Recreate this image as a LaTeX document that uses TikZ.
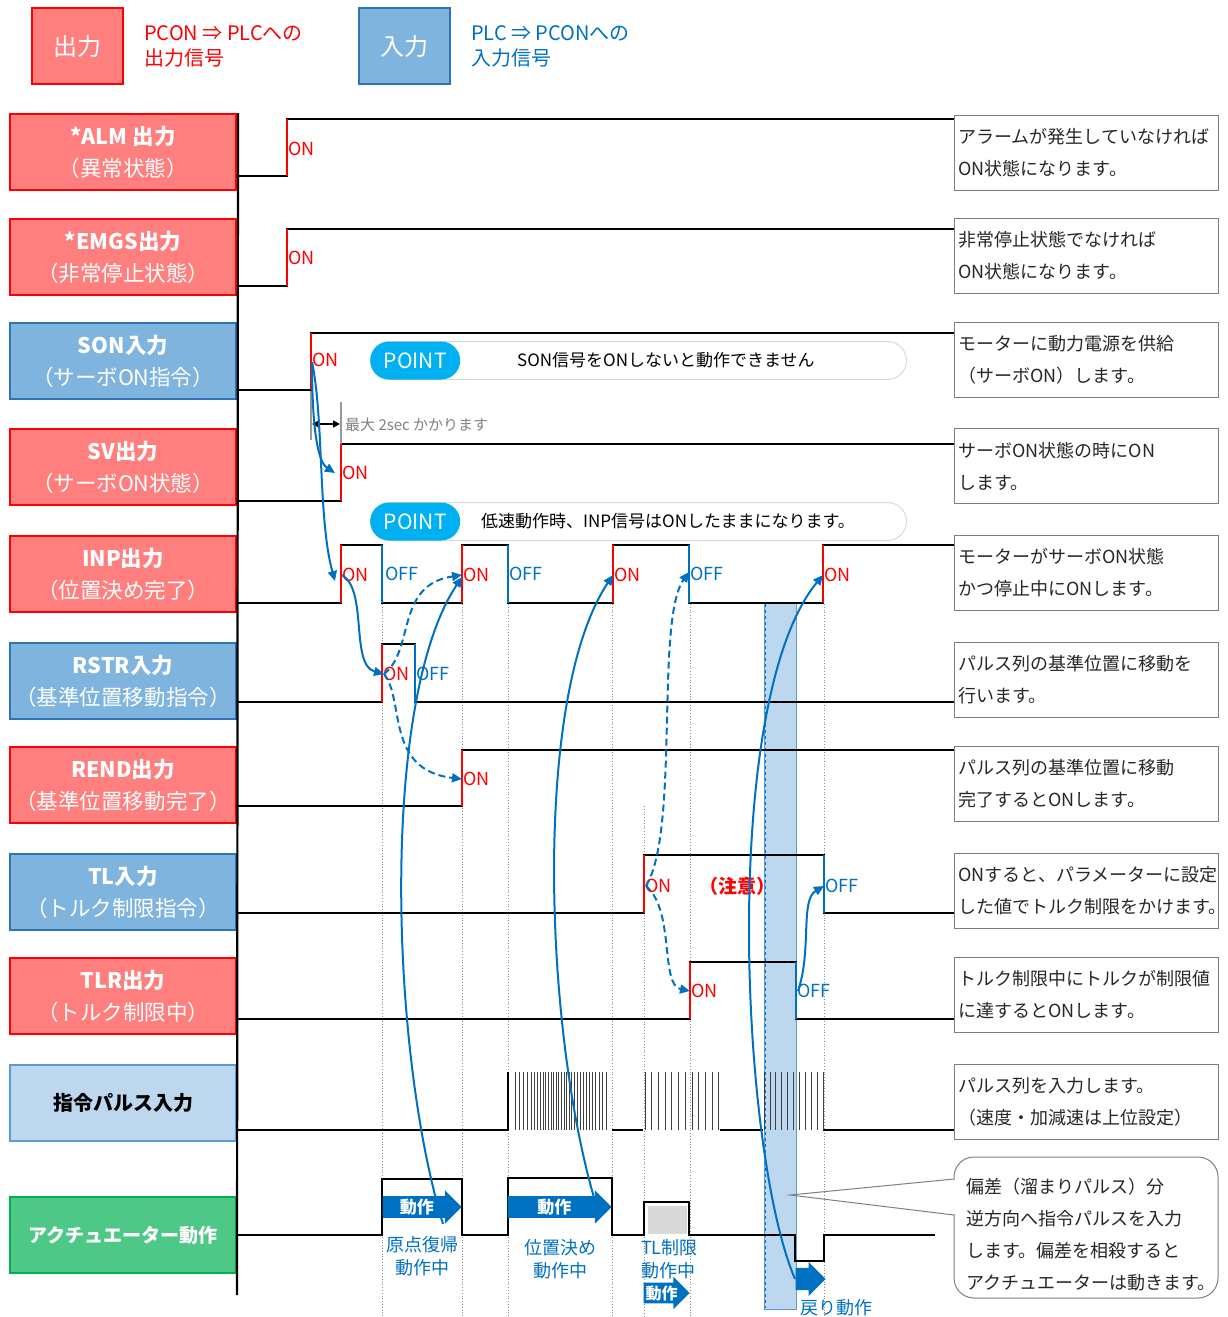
\documentclass[tikz,border=0pt]{standalone}
\usepackage{fontspec}
\setmainfont{Noto Sans CJK JP}
\usetikzlibrary{positioning,arrows.meta,shapes.arrows}
\definecolor{outclr}{RGB}{255,0,0}
\definecolor{outbg}{RGB}{255,127,127}
\definecolor{inclr}{RGB}{46,117,182}
\definecolor{inbg}{RGB}{127,180,222}
\definecolor{pulseclr}{RGB}{91,155,213}
\definecolor{pulsebg}{RGB}{189,215,238}
\definecolor{actclr}{RGB}{0,176,80}
\definecolor{actbg}{RGB}{78,200,134}
\definecolor{linkclr}{RGB}{0,112,192}
\definecolor{pointclr}{RGB}{0,176,240}
\definecolor{notegray}{RGB}{127,127,127}
\definecolor{textgray}{RGB}{38,38,38}

\tikzset{
  sigbox/.style={minimum width=226pt, minimum height=76pt, line width=2pt, inner sep=0pt,
                 align=center, anchor=north west, font=\fontsize{21.5}{32}\selectfont},
  outsig/.style={sigbox, draw=outclr, fill=outbg, text=white},
  insig/.style={sigbox, draw=inclr, fill=inbg, text=white},
  descbox/.style={draw=notegray, line width=1pt, minimum width=264pt, minimum height=75pt,
                  text width=256pt, inner xsep=4pt, align=left, anchor=north west,
                  text=textgray, font=\fontsize{18}{32}\selectfont},
  wave/.style={line width=1.6pt, black},
  rise/.style={line width=1.6pt, outclr},
  fall/.style={line width=1.6pt, linkclr},
  pulse/.style={line width=0.8pt, black!75},
  onlbl/.style={text=outclr, font=\fontsize{18}{20}\selectfont, inner sep=1pt, anchor=west},
  offlbl/.style={text=linkclr, font=\fontsize{18}{20}\selectfont, inner sep=1pt, anchor=west},
  link/.style={draw=linkclr, line width=2pt, -{Triangle[length=10pt,width=9pt]}},
  dashlink/.style={link, dash pattern=on 7pt off 4pt},
  guide/.style={draw=black!45, dotted, line width=0.8pt},
  movearrow/.style={single arrow, fill=linkclr, text=white, inner xsep=1pt, inner ysep=2.5pt,
                    single arrow head extend=6pt, anchor=tip,
                    font=\fontsize{17}{18}\selectfont\bfseries},
  acttxt/.style={text=linkclr, align=center, font=\fontsize{18}{23}\selectfont, inner sep=0pt},
  pointbox/.style={draw=black!15, line width=1pt, fill=white, rounded corners=19pt,
                   minimum width=536pt, minimum height=38pt, anchor=north west, inner sep=0pt},
  pointtag/.style={fill=pointclr, rounded corners=19pt, minimum width=90pt, minimum height=38pt,
                   inner sep=0pt, text=white, font=\fontsize{21}{22}\selectfont, anchor=west}
}

\begin{document}
\begin{tikzpicture}[x=1pt, y=-1pt]
  \useasboundingbox (0,0) rectangle (1228,1317);

  % legend
  \node[outsig, minimum width=91pt, font=\fontsize{24}{26}\selectfont] (legOut) at (31,7) {出力};
  \node[right=19pt of legOut, inner sep=1pt, align=left, text=outclr,
        font=\fontsize{20}{25}\selectfont] (legOutTxt) {PCON ⇒ PLCへの\\出力信号};
  \node[insig, minimum width=91pt, font=\fontsize{24}{26}\selectfont] (legIn) at (358,7) {入力};
  \node[right=19pt of legIn, inner sep=1pt, align=left, text=linkclr,
        font=\fontsize{20}{25}\selectfont] (legInTxt) {PLC ⇒ PCONへの\\入力信号};

  % guides and band
  \foreach \x in {382,462,508,612,690,824}
    \draw[guide] (\x,604) -- (\x,1316);
  \draw[guide] (644,806) -- (644,1316);
  \draw[draw=pulseclr, fill=pulsebg, line width=0.8pt] (764,603) rectangle (796,1309);
  \draw[draw=linkclr, dashed, line width=0.6pt] (765,604) -- (765,1308);

  % signal names
  \node[outsig] (alm) at (9,113) {\textbf{*ALM 出力}\\（異常状態）};
  \node[outsig] (emgs) at (9,218) {\textbf{*EMGS出力}\\（非常停止状態）};
  \node[insig] (son) at (9,322) {\textbf{SON入力}\\（サーボON指令）};
  \node[outsig] (sv) at (9,428) {\textbf{SV出力}\\（サーボON状態）};
  \node[outsig] (inp) at (9,535) {\textbf{INP出力}\\（位置決め完了）};
  \node[insig] (rstr) at (9,642) {\textbf{RSTR入力}\\（基準位置移動指令）};
  \node[outsig] (rend) at (9,746) {\textbf{REND出力}\\（基準位置移動完了）};
  \node[insig] (tl) at (9,853) {\textbf{TL入力}\\（トルク制限指令）};
  \node[outsig] (tlr) at (9,957) {\textbf{TLR出力}\\（トルク制限中）};
  \node[sigbox, draw=pulseclr, fill=pulsebg, text=black, font=\fontsize{20}{22}\selectfont] (pls) at (9,1064)
    {\textbf{指令パルス入力}};
  \node[sigbox, draw=actclr, fill=actbg, text=white, font=\fontsize{19}{22}\selectfont] (act) at (9,1196)
    {\textbf{アクチュエーター動作}};
  \draw[line width=2.2pt] (alm.north east) ++(1pt,0) -- (237,1295);

  % notes
  \node[descbox] (almDesc) at (954,115) {アラームが発生していなければ\\ON状態になります。};
  \node[descbox] (emgsDesc) at (954,218) {非常停止状態でなければ\\ON状態になります。};
  \node[descbox] (sonDesc) at (954,322) {モーターに動力電源を供給\\（サーボON）します。};
  \node[descbox] (svDesc) at (954,428) {サーボON状態の時にON\\します。};
  \node[descbox] (inpDesc) at (954,535) {モーターがサーボON状態\\かつ停止中にONします。};
  \node[descbox] (rstrDesc) at (954,642) {パルス列の基準位置に移動を\\行います。};
  \node[descbox] (rendDesc) at (954,746) {パルス列の基準位置に移動\\完了するとONします。};
  \node[descbox] (tlDesc) at (954,853) {ONすると、パラメーターに設定\\した値でトルク制限をかけます。};
  \node[descbox] (tlrDesc) at (954,957) {トルク制限中にトルクが制限値\\に達するとONします。};
  \node[descbox] (plsDesc) at (954,1064) {パルス列を入力します。\\（速度・加減速は上位設定）};

  % POINT
  \node[pointbox] (point1) at (370,341) {};
  \node[pointtag] (point1Tag) at (point1.west) {POINT};
  \node[anchor=west, inner sep=0pt, font=\fontsize{17}{18}\selectfont] (point1Txt) at (517,360)
    {SON信号をONしないと動作できません};
  \node[pointbox] (point2) at (370,502) {};
  \node[pointtag] (point2Tag) at (point2.west) {POINT};
  \node[anchor=west, inner sep=0pt, font=\fontsize{17}{18}\selectfont] (point2Txt) at (481,521)
    {低速動作時、INP信号はONしたままになります。};

  % waves
  \draw[wave] (238,176) -- (287,176) -- (287,119) -- (954,119);
  \draw[rise] (287,176) -- (287,119);
  \draw[wave] (238,286) -- (287,286) -- (287,229) -- (954,229);
  \draw[rise] (287,286) -- (287,229);
  \draw[wave] (238,390) -- (311,390) -- (311,333) -- (954,333);
  \draw[rise] (311,390) -- (311,333);
  \draw[wave] (238,501) -- (341,501) -- (341,444) -- (954,444);
  \draw[rise] (341,501) -- (341,444);
  \draw[wave] (238,603) -- (341,603) -- (341,545) -- (382,545) -- (382,603) -- (462,603) -- (462,545)
    -- (508,545) -- (508,603) -- (613,603) -- (613,545) -- (689,545) -- (689,603) -- (823,603)
    -- (823,545) -- (954,545);
  \draw[rise] (341,603) -- (341,545);
  \draw[fall] (382,545) -- (382,603);
  \draw[rise] (462,603) -- (462,545);
  \draw[fall] (508,545) -- (508,603);
  \draw[rise] (613,603) -- (613,545);
  \draw[fall] (689,545) -- (689,603);
  \draw[rise] (823,603) -- (823,545);
  \draw[wave] (238,702) -- (382,702) -- (382,644) -- (415,644) -- (415,702) -- (954,702);
  \draw[rise] (382,702) -- (382,644);
  \draw[fall] (415,644) -- (415,702);
  \draw[wave] (238,806) -- (462,806) -- (462,750) -- (954,750);
  \draw[rise] (462,806) -- (462,750);
  \draw[wave] (238,913) -- (644,913) -- (644,855) -- (824,855) -- (824,913) -- (954,913);
  \draw[rise] (644,913) -- (644,855);
  \draw[fall] (824,855) -- (824,913);
  \draw[wave] (238,1019) -- (690,1019) -- (690,962) -- (796,962) -- (796,1019) -- (954,1019);
  \draw[rise] (690,1019) -- (690,962);
  \draw[fall] (796,962) -- (796,1019);

  % pulses
  \draw[wave] (238,1130) -- (508,1130) -- (508,1072);
  \draw[wave] (612,1130) -- (643,1130);
  \draw[wave] (720,1130) -- (763,1130);
  \draw[wave] (823,1130) -- (954,1130);
  \foreach \x in {515,519,523,527,531,534.5,537.5,540.5,543.2,545.8,548.4,551,553.6,556.2,558.8,
                  561.4,564,566.6,569.2,571.8,574.4,577,580,583,586,589,592,595.5,599,602.5,606}
    \draw[pulse] (\x,1072) -- (\x,1130);
  \foreach \x in {645,651.7,...,720}
    \draw[pulse] (\x,1072) -- (\x,1130);
  \foreach \x in {764,769.9,...,824}
    \draw[pulse] (\x,1072) -- (\x,1130);

  % actuator
  \fill[black!15] (648,1206) rectangle (687,1234);
  \draw[wave] (238,1235) -- (382,1235) -- (382,1179) -- (462,1179) -- (462,1235) -- (508,1235)
    -- (508,1178) -- (612,1178) -- (612,1235) -- (644,1235) -- (644,1202) -- (689,1202) -- (689,1235)
    -- (795,1235) -- (795,1261) -- (824,1261) -- (824,1235) -- (935,1235);
  \node[movearrow, minimum height=79pt] (move1) at (462,1207) {動作};
  \node[movearrow, minimum height=104pt] (move2) at (612,1207) {動作};
  \node[movearrow, minimum height=46pt, font=\fontsize{16}{17}\selectfont\bfseries] (move3) at (690,1293) {動作};
  \node[movearrow, minimum height=30pt, inner ysep=11pt] (moveBack) at (826,1279) {};
  \node[acttxt] (homeLbl) at (422,1256) {原点復帰\\動作中};
  \node[acttxt] (posLbl) at (560,1259) {位置決め\\動作中};
  \node[acttxt, align=left, anchor=west] (tlLbl) at (641,1259) {TL制限\\動作中};
  \node[acttxt, anchor=west] (backLbl) at (800,1308) {戻り動作};

  % callout
  \draw[draw=notegray, line width=1pt, fill=white, rounded corners=20pt] (954,1157) rectangle (1218,1298);
  \fill[white] (952,1180) rectangle (956,1214);
  \coordinate (devPt) at (790,1195);
  \draw[draw=notegray, line width=1pt] (954,1179) -- (devPt) -- (954,1215);
  \node[anchor=west, align=left, inner sep=0pt, text=textgray, font=\fontsize{18}{32}\selectfont]
    (devTxt) at (966,1235) {偏差（溜まりパルス）分\\逆方向へ指令パルスを入力\\します。偏差を相殺すると\\アクチュエーターは動きます。};

  % ON / OFF
  \node[onlbl] (almOn) at (287,149) {ON};
  \node[onlbl] (emgsOn) at (287,258) {ON};
  \node[onlbl] (sonOn) at (311,360) {ON};
  \node[onlbl] (svOn) at (341,473) {ON};
  \node[onlbl] (inpOn1) at (341,575) {ON};
  \node[offlbl] (inpOff1) at (384,574) {OFF};
  \node[onlbl] (inpOn2) at (462,575) {ON};
  \node[offlbl] (inpOff2) at (508,574) {OFF};
  \node[onlbl] (inpOn3) at (613,575) {ON};
  \node[offlbl] (inpOff3) at (689,574) {OFF};
  \node[onlbl] (inpOn4) at (823,575) {ON};
  \node[onlbl] (rstrOn) at (382,674) {ON};
  \node[offlbl] (rstrOff) at (415,674) {OFF};
  \node[onlbl] (rendOn) at (462,779) {ON};
  \node[onlbl] (tlOn) at (644,886) {ON};
  \node[text=outclr, font=\fontsize{19}{20}\selectfont\bfseries] (tlNote) at (737,886) {（注意）};
  \node[offlbl] (tlOff) at (824,886) {OFF};
  \node[onlbl] (tlrOn) at (690,991) {ON};
  \node[offlbl] (tlrOff) at (796,991) {OFF};

  % 2 sec
  \draw[black!40, line width=1.2pt] (311,391) -- (311,440);
  \draw[black!40, line width=1.2pt] (341,402) -- (341,444);
  \coordinate (waitL) at (312,424);
  \coordinate (waitR) at (340,424);
  \draw[line width=1.5pt, {Triangle[length=7pt,width=7pt]}-{Triangle[length=7pt,width=7pt]}] (waitL) -- (waitR);
  \node[anchor=west, inner sep=1pt, text=black!50, font=\fontsize{15}{16}\selectfont] (waitTxt) at (344,425)
    {最大 2sec かかります};

  % links
  \coordinate (sonTrig) at (312,362);
  \coordinate (rstrTrig) at (384,674);
  \coordinate (tlTrig) at (646,886);
  \draw[link] (sonTrig) .. controls (312,430) and (318,462) .. ([xshift=-6pt]svOn.west);
  \draw[link] (sonTrig) .. controls (324,420) and (318,520) .. ([xshift=-6pt,yshift=-6pt]inpOn1.west);
  \draw[link] ([xshift=1pt]inpOn1.west) .. controls (368,590) and (350,665) .. (rstrTrig);
  \draw[dashlink] (rstrTrig) .. controls (415,650) and (395,585) .. (inpOn2.west);
  \draw[dashlink] (rstrTrig) .. controls (405,700) and (385,770) .. (rendOn.west);
  \draw[dashlink] (tlTrig) .. controls (680,830) and (655,620) .. ([yshift=2pt]inpOff3.west);
  \draw[dashlink] (tlTrig) .. controls (675,910) and (660,985) .. (tlrOn.west);
  \draw[link] ([xshift=2pt]tlrOff.west) .. controls (812,950) and (800,900) .. (tlOff.west);
  \draw[link] ([xshift=-19pt,yshift=-17pt]move1.tip) .. controls (390,1050) and (380,700) .. ([yshift=-2pt]inpOn2.west);
  \draw[link] ([xshift=-12pt,yshift=-10pt]move2.tip) .. controls (545,1050) and (530,700) .. (inpOn3.west);
  \draw[link] ([xshift=-31pt]moveBack.tip) .. controls (740,1150) and (720,700) .. (inpOn4.west);
\end{tikzpicture}
\end{document}
